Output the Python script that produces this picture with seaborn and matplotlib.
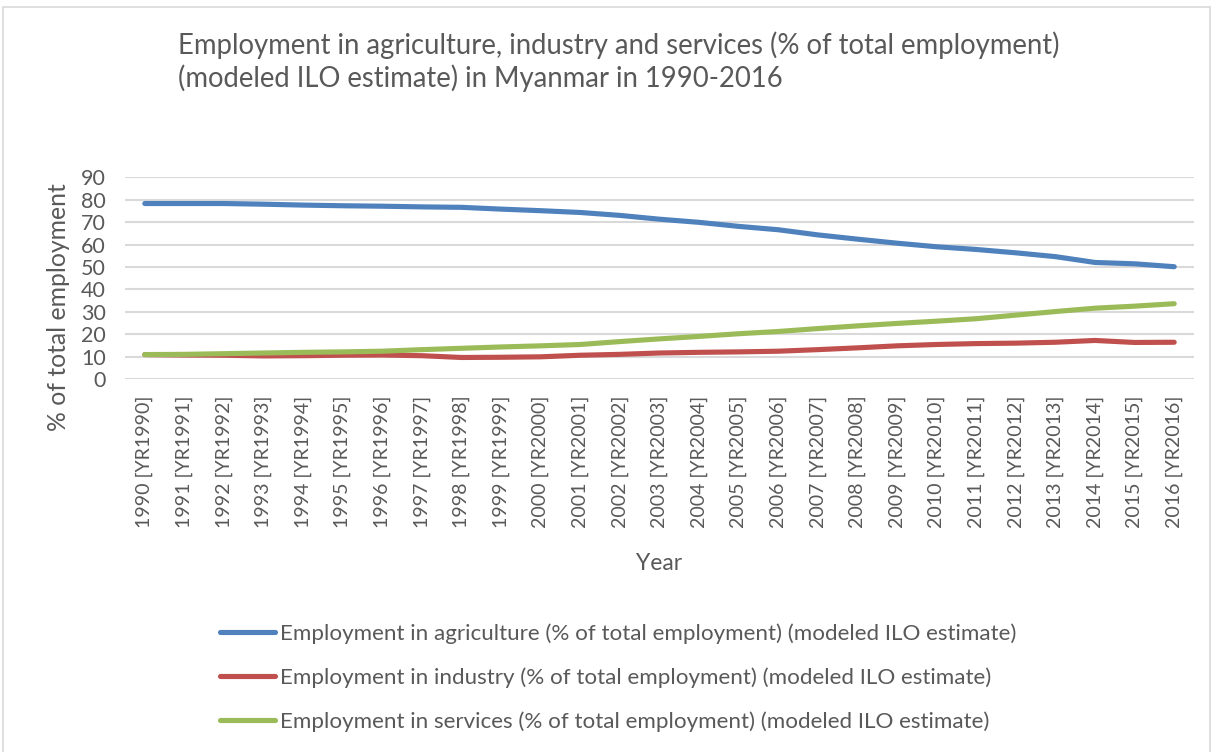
import matplotlib
matplotlib.use("Agg")
import matplotlib.pyplot as plt
import seaborn as sns
import pandas as pd
from matplotlib.patches import Rectangle

# --- data -------------------------------------------------------------
years = list(range(1990, 2017))
year_labels = [f"{y} [YR{y}]" for y in years]

agriculture = [78.3, 78.3, 78.3, 78.0, 77.6, 77.3, 77.1, 76.8, 76.6, 75.8,
               75.1, 74.3, 73.0, 71.3, 69.9, 68.1, 66.6, 64.3, 62.4, 60.6,
               59.0, 57.8, 56.3, 54.6, 52.0, 51.4, 50.1]
industry = [10.9, 10.7, 10.6, 10.3, 10.4, 10.6, 10.7, 10.4, 9.6, 9.7,
            9.9, 10.6, 11.0, 11.6, 11.9, 12.1, 12.4, 13.1, 13.9, 14.8,
            15.4, 15.8, 16.0, 16.4, 17.2, 16.3, 16.4]
services = [10.9, 11.0, 11.3, 11.6, 11.9, 12.1, 12.4, 13.1, 13.7, 14.3,
            14.8, 15.4, 16.7, 17.9, 19.0, 20.2, 21.2, 22.5, 23.7, 24.8,
            25.8, 26.9, 28.5, 30.1, 31.6, 32.5, 33.6]

series_names = [
    "Employment in agriculture (% of total employment) (modeled ILO estimate)",
    "Employment in industry (% of total employment) (modeled ILO estimate)",
    "Employment in services (% of total employment) (modeled ILO estimate)",
]
series_colors = ["#4F81BD", "#C0504D", "#9BBB59"]

title = ("Employment in agriculture, industry and services (% of total employment)\n"
         "(modeled ILO estimate) in Myanmar in 1990-2016")

df = pd.concat([
    pd.DataFrame({"idx": range(len(years)), "value": vals, "series": name})
    for name, vals in zip(series_names, [agriculture, industry, services])
], ignore_index=True)

# --- figure -----------------------------------------------------------
sns.set_theme(style="white")
plt.rcParams["font.family"] = ["Lato", "DejaVu Sans"]
TXT = "#595959"
GRID = "#D9D9D9"

W, H = 1213, 752
fig = plt.figure(figsize=(W / 100, H / 100), dpi=100)

def fx(px):
    return px / W

def fy(py):
    return 1 - py / H

# chart border
fig.patches.append(Rectangle((fx(3), fy(760)), fx(1207), 760 / H - 7 / H,
                             transform=fig.transFigure, fill=False,
                             edgecolor=GRID, linewidth=1.2))

ax_l, ax_r, ax_t, ax_b = 125, 1194, 177.3, 379
ax = fig.add_axes([fx(ax_l), fy(ax_b), fx(ax_r - ax_l), (ax_b - ax_t) / H])

sns.lineplot(data=df, x="idx", y="value", hue="series", hue_order=series_names,
             palette=series_colors, linewidth=3.7, ax=ax, legend=False,
             solid_capstyle="round")

ax.set_xlim(-0.5, len(years) - 0.5)
ax.set_ylim(0, 90)
ax.set_yticks(range(0, 91, 10))
ax.set_xticks(range(len(years)))
ax.set_xticklabels(year_labels, rotation=90)
ax.tick_params(axis="x", length=0, pad=12, labelsize=14.1, labelcolor=TXT)
ax.tick_params(axis="y", length=0, pad=14, labelsize=15.5, labelcolor=TXT)
ax.grid(axis="y", color=GRID, linewidth=1.5)
ax.grid(axis="x", visible=False)
for s in ax.spines.values():
    s.set_visible(False)
ax.set_axisbelow(True)

ax_w, ax_h = ax_r - ax_l, ax_b - ax_t
ax.set_xlabel("Year", fontsize=16.5, color=TXT)
ax.xaxis.set_label_coords(0.5, -(563 - ax_b) / ax_h, transform=ax.transAxes)
ax.xaxis.label.set_va("center")
ax.set_ylabel("% of total employment", fontsize=17.8, color=TXT)
ax.yaxis.set_label_coords(-(ax_l - 58) / ax_w, (ax_b - 307.5) / ax_h,
                          transform=ax.transAxes)
ax.yaxis.label.set_va("center")

fig.text(fx(178), fy(61.5), title, fontsize=19.8, color=TXT, va="center",
         ha="left", linespacing=1.22)

# legend
handles = [plt.Line2D([], [], color=c, linewidth=3.7, solid_capstyle="round")
           for c in series_colors]
leg = fig.legend(handles, series_names, loc="upper left",
                 bbox_to_anchor=(fx(220), fy(623)), frameon=False,
                 fontsize=16.1, handlelength=2.45, handletextpad=0.22,
                 labelspacing=1.06, borderaxespad=0, borderpad=0)
for t in leg.get_texts():
    t.set_color(TXT)

fig.savefig("out.png", dpi=100)
